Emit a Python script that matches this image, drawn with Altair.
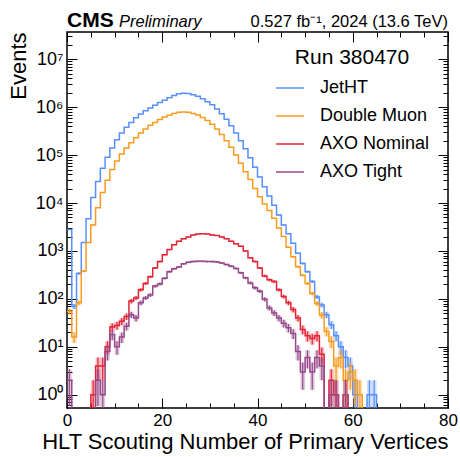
import altair as alt
import pandas as pd

series_names = ["JetHT", "Double Muon", "AXO Nominal", "AXO Tight"]
series_colors = ["#5790fc", "#f89c20", "#e42536", "#964a8b"]

jetht = [2800, 70, 340, 1500, 4700, 13000, 28000, 53000, 90000, 140000,
         210000, 290000, 380000, 480000, 600000, 720000, 840000, 960000, 1100000, 1250000,
         1400000, 1580000, 1760000, 1900000, 1950000, 1920000, 1820000, 1680000, 1500000, 1300000,
         1120000, 920000, 730000, 560000, 410000, 290000, 200000, 135000, 88000, 56000,
         35000, 22000, 14000, 9000, 5600, 3500, 2300, 1450, 900, 550,
         370, 230, 110, 75, 47, 29, 17, 10, 6, 4,
         1, 0, 0, 1, 1, 0, 0, 0, 0, 0,
         0, 0, 0, 0, 0, 0, 0, 0, 0, 0]

double_muon = [55, 16, 83, 380, 1500, 3500, 8000, 16500, 30000, 50000,
               75000, 105000, 140000, 180000, 230000, 290000, 350000, 420000, 480000, 550000,
               620000, 680000, 740000, 780000, 790000, 780000, 740000, 690000, 610000, 530000,
               440000, 350000, 270000, 200000, 145000, 100000, 68000, 45000, 31000, 20000,
               13500, 9500, 7000, 4800, 3000, 2000, 1200, 760, 470, 310,
               210, 130, 80, 46, 21, 13, 4, 6, 2, 3,
               2, 1, 0, 0, 0, 0, 0, 0, 0, 0,
               0, 0, 0, 0, 0, 0, 0, 0, 0, 0]

axo_nominal = [0, 0, 0, 0, 0, 1, 4, 4, 10, 26,
               28, 34, 43, 90, 105, 155, 210, 290, 440, 600,
               830, 1070, 1350, 1600, 1800, 1950, 2150, 2250, 2300, 2250,
               2150, 2100, 1950, 1800, 1600, 1420, 1250, 1000, 720, 600,
               440, 300, 250, 230, 155, 112, 83, 60, 40, 23,
               17, 15, 17, 7, 0, 2, 1, 0, 1, 0,
               0, 0, 0, 0, 0, 0, 0, 0, 0, 0,
               0, 0, 0, 0, 0, 0, 0, 0, 0, 0]

axo_tight = [2, 0, 0, 0, 0, 0, 2, 1, 8, 18,
             10, 16, 27, 47, 40, 83, 105, 120, 185, 205,
             270, 370, 425, 465, 540, 580, 600, 610, 610, 600,
             600, 590, 560, 520, 480, 430, 350, 275, 215, 170,
             145, 98, 65, 51, 40, 31, 25, 19, 8, 3,
             6, 3, 6, 4, 0, 1, 1, 0, 1, 0,
             0, 0, 0, 0, 0, 0, 0, 0, 0, 0,
             0, 0, 0, 0, 0, 0, 0, 0, 0, 0]

x_major = [0, 20, 40, 60, 80]
x_minor = list(range(0, 81, 5))
y_lo, y_hi = 0.53, 3.7e7
y_major = [10 ** e for e in range(0, 8)]
y_minor = [m * 10.0 ** e for e in range(-1, 8) for m in range(2, 10)
           if y_lo <= m * 10.0 ** e <= y_hi]

rows = []
for name, vals in zip(series_names, [jetht, double_muon, axo_nominal, axo_tight]):
    for i, v in enumerate(vals):
        rows.append({"series": name, "edge": i, "count": v})
    rows.append({"series": name, "edge": len(vals), "count": vals[-1]})
df = pd.DataFrame(rows)

FONT = "Liberation Sans"
xs = alt.Scale(domain=[0, 80], nice=False, zero=False)
ys = alt.Scale(type="log", domain=[y_lo, y_hi], nice=False)
cs = alt.Scale(domain=series_names, range=series_colors)

common = dict(domain=False, grid=False, tickColor="black", tickWidth=1)

ax_bottom_major = alt.Axis(orient="bottom", values=x_major, tickSize=10, offset=-10,
                           labelFontSize=17, labelPadding=4, labelFlush=False,
                           labelColor="black", labelFont=FONT, format="d",
                           title="HLT Scouting Number of Primary Vertices",
                           titleFontSize=22, titleFontWeight="normal", titleFont=FONT,
                           titleAnchor="end", titlePadding=3, titleColor="black", **common)
ax_bottom_minor = alt.Axis(orient="bottom", values=x_minor, tickSize=5, offset=-5,
                           labels=False, title=None, **common)
ax_top_major = alt.Axis(orient="top", values=x_major, tickSize=10, offset=-10,
                        labels=False, title=None, **common)
ax_top_minor = alt.Axis(orient="top", values=x_minor, tickSize=5, offset=-5,
                        labels=False, title=None, **common)

sup = "['\u2070','\u00b9','\u00b2','\u00b3','\u2074','\u2075','\u2076','\u2077','\u2078']"
ay_left_major = alt.Axis(orient="left", values=y_major, tickSize=10, offset=-10,
                         labelExpr="'10' + " + sup + "[round(log(datum.value)/LN10)]",
                         labelFontSize=18, labelPadding=4, labelFlush=False,
                         labelColor="black", labelFont=FONT,
                         title="Events", titleFontSize=22, titleFontWeight="normal",
                         titleFont=FONT, titleAnchor="end", titlePadding=5,
                         titleColor="black", **common)
ay_left_minor = alt.Axis(orient="left", values=y_minor, tickSize=5, offset=-5,
                         labels=False, title=None, **common)
ay_right_major = alt.Axis(orient="right", values=y_major, tickSize=10, offset=-10,
                          labels=False, title=None, **common)
ay_right_minor = alt.Axis(orient="right", values=y_minor, tickSize=5, offset=-5,
                          labels=False, title=None, **common)

base = alt.Chart(df).transform_calculate(
    yv="datum.count > 0 ? datum.count : 0.01",
    hi="datum.count > 0 ? datum.count + sqrt(datum.count) : 0.01",
    lo="datum.count > 0 ? max(datum.count - sqrt(datum.count), 0.01) : 0.01",
    xc="datum.edge + 0.5",
)

line = base.mark_line(interpolate="step-after", strokeWidth=1.5, clip=True).encode(
    x=alt.X("edge:Q", scale=xs, axis=ax_bottom_major),
    y=alt.Y("yv:Q", scale=ys, axis=ay_left_major),
    color=alt.Color("series:N", scale=cs, sort=series_names,
                    legend=alt.Legend(title="Run 380470", orient="none",
                                      legendX=208, legendY=15,
                                      symbolType="stroke", symbolSize=784,
                                      symbolStrokeWidth=1.5,
                                      labelFontSize=18, labelFont=FONT, labelColor="black",
                                      titleFontSize=21, titleFont=FONT,
                                      titleFontWeight="normal", titleColor="black",
                                      titleAnchor="middle", titlePadding=5,
                                      labelOffset=15, rowPadding=4, padding=0)),
)

band = base.mark_area(interpolate="step-after", opacity=0.3, clip=True).encode(
    x=alt.X("edge:Q", scale=xs, axis=ax_bottom_minor),
    y=alt.Y("lo:Q", scale=ys, axis=ay_left_minor),
    y2="hi:Q",
    color=alt.Color("series:N", scale=cs, legend=None),
)

rules = base.transform_filter("datum.count > 0 && datum.edge < 80").mark_rule(
    strokeWidth=1.2, clip=True).encode(
    x=alt.X("xc:Q", scale=xs, axis=ax_top_major),
    y=alt.Y("lo:Q", scale=ys, axis=ay_right_major),
    y2="hi:Q",
    color=alt.Color("series:N", scale=cs, legend=None),
)

ghost = base.mark_point(opacity=0, clip=True).encode(
    x=alt.X("edge:Q", scale=xs, axis=ax_top_minor),
    y=alt.Y("yv:Q", scale=ys, axis=ay_right_minor),
)

cms = alt.Chart(pd.DataFrame({"t": ["CMS"]})).mark_text(
    align="left", baseline="alphabetic", fontSize=21, fontWeight="bold", font=FONT,
    color="black").encode(text="t:N", x=alt.value(0), y=alt.value(-5.5))
prelim = alt.Chart(pd.DataFrame({"t": ["Preliminary"]})).mark_text(
    align="left", baseline="alphabetic", fontSize=16.5, fontStyle="italic", font=FONT,
    color="black").encode(text="t:N", x=alt.value(52), y=alt.value(-5.5))
lumi = alt.Chart(pd.DataFrame({"t": ["0.527 fb\u207b\u00b9, 2024 (13.6 TeV)"]})).mark_text(
    align="right", baseline="alphabetic", fontSize=16.5, font=FONT,
    color="black").encode(text="t:N", x=alt.value(381), y=alt.value(-5.5))

chart = alt.layer(line, band, rules, ghost, cms, prelim, lumi).resolve_scale(
    x="shared", y="shared").resolve_axis(x="independent", y="independent").properties(
    width=381, height=376,
    autosize=alt.AutoSizeParams(type="none"),
    padding={"left": 67, "top": 32, "right": 12, "bottom": 49},
).configure(font=FONT).configure_view(stroke="black", strokeWidth=1.5)

chart.save("out.html", embed_options={"renderer": "svg", "actions": False})
